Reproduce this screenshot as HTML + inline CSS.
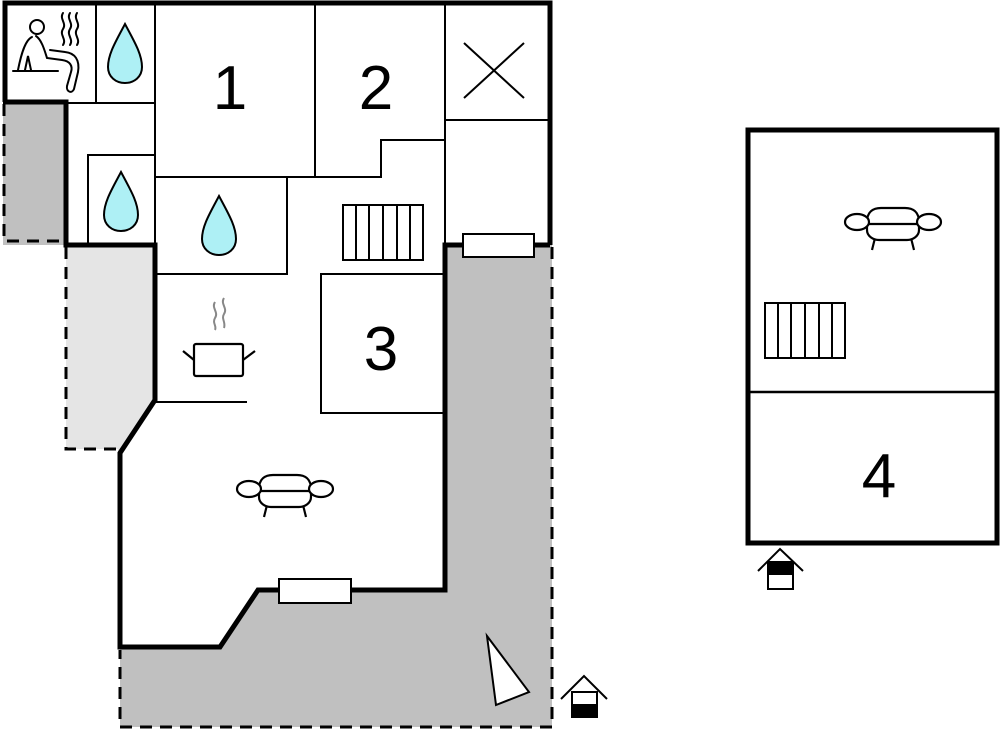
<!DOCTYPE html>
<html><head><meta charset="utf-8"><style>html,body{margin:0;padding:0;background:#fff}svg{display:block}</style></head>
<body>
<svg width="1000" height="729" viewBox="0 0 1000 729" xmlns="http://www.w3.org/2000/svg" font-family="Liberation Sans, sans-serif">
<defs>
<g id="drop"><path d="M0,-30 C9,-13 17,0 17,13 C17,23 9,29 0,29 C-9,29 -17,23 -17,13 C-17,0 -9,-13 0,-30Z" fill="#aef0f5" stroke="#000" stroke-width="2"/></g>
<g id="sofa" fill="#fff" stroke="#000" stroke-width="2.2">
<line x1="-18" y1="12" x2="-21" y2="24"/><line x1="18" y1="12" x2="21" y2="24"/>
<path d="M-26,-4 L-26,4 C-26,10 -20,14 -14,14 L14,14 C20,14 26,10 26,4 L26,-4"/>
<path d="M-26,-4 C-26,-14 -20,-18 -12,-18 L12,-18 C20,-18 26,-14 26,-4"/>
<line x1="-26" y1="-2" x2="26" y2="-2"/>
<ellipse cx="-36" cy="-4" rx="12" ry="8"/><ellipse cx="36" cy="-4" rx="12" ry="8"/>
</g>
<g id="stairs" fill="#fff" stroke="#000" stroke-width="2">
<rect x="0" y="0" width="80" height="55"/>
<line x1="13" y1="0" x2="13" y2="55"/><line x1="26" y1="0" x2="26" y2="55"/><line x1="40" y1="0" x2="40" y2="55"/><line x1="54" y1="0" x2="54" y2="55"/><line x1="67" y1="0" x2="67" y2="55"/>
</g>
</defs>
<rect x="3" y="102" width="63" height="143" fill="#c0c0c0"/>
<polygon points="66,245 155,245 155,400 118,452 118,449 66,449" fill="#e5e5e5"/>
<polygon points="445,245 552,245 552,727 120,727 120,647 220,647 257,589 445,589" fill="#c0c0c0"/>
<g fill="none" stroke="#000" stroke-width="3" stroke-dasharray="12,8">
<polyline points="4,104 4,241 66,241"/>
<polyline points="66,247 66,449 118,449"/>
<polyline points="552,247 552,727 120,727 120,650"/>
</g>
<g fill="none" stroke="#000" stroke-width="2">
<line x1="96" y1="3" x2="96" y2="102"/>
<line x1="66" y1="103" x2="155" y2="103"/>
<line x1="155" y1="3" x2="155" y2="245"/>
<line x1="315" y1="3" x2="315" y2="177"/>
<polyline points="155,177 381,177 381,140 445,140"/>
<line x1="445" y1="3" x2="445" y2="245"/>
<line x1="445" y1="120" x2="550" y2="120"/>
<line x1="464" y1="43" x2="524" y2="98"/><line x1="524" y1="43" x2="464" y2="98"/>
<polyline points="88,245 88,155 155,155"/>
<polyline points="287,177 287,274 155,274"/>
<polyline points="445,274 321,274 321,413 445,413"/>
<line x1="155" y1="402" x2="247" y2="402"/>
</g>
<g fill="none" stroke="#000" stroke-width="5" stroke-linejoin="miter">
<polyline points="5,102 5,3 550,3 550,245"/>
<polyline points="3,102 66,102 66,245 155,245 155,400 120,453 120,647 220,647 258,590 445,590 445,245 550,245"/>
<rect x="748" y="130" width="249" height="413"/>
</g>
<line x1="748" y1="392" x2="997" y2="392" stroke="#000" stroke-width="2.5"/>
<rect x="463" y="234" width="71" height="23" fill="#fff" stroke="#000" stroke-width="2"/>
<rect x="279" y="579" width="72" height="24" fill="#fff" stroke="#000" stroke-width="2"/>
<g font-size="62" text-anchor="middle" fill="#000">
<text x="230" y="109">1</text><text x="376" y="109">2</text><text x="381" y="370">3</text><text x="879" y="497">4</text>
</g>
<use href="#drop" x="125" y="54"/>
<use href="#drop" x="121" y="202"/>
<use href="#drop" x="219" y="226"/>
<use href="#stairs" x="343" y="205"/>
<use href="#stairs" x="765" y="303"/>
<use href="#sofa" x="285" y="493"/>
<use href="#sofa" x="893" y="226"/>
<g fill="none" stroke="#000" stroke-width="2" stroke-linecap="round">
<circle cx="37" cy="27" r="7"/>
<path d="M32,37 C25,40 21,55 18,70 M25,70 L28,56 L31,70"/>
<path d="M36,36 C42,40 45,52 47,58 L62,60 C70,61 73,66 71,72 L67,86 C66,92 72,94 74,89 L78,72 C80,60 75,53 65,52 L50,50"/>
<line x1="13" y1="71" x2="58" y2="71"/>
<path d="M63,13 c-4,6 4,10 0,16 c-4,6 4,10 0,16"/>
<path d="M70,13 c-4,6 4,10 0,16 c-4,6 4,10 0,16"/>
<path d="M77,13 c-4,6 4,10 0,16 c-4,6 4,10 0,16"/>
</g>
<g fill="none" stroke="#888" stroke-width="2">
<path d="M215,302 c-4,6 4,10 0,16 c-3,5 2,8 0,12"/>
<path d="M224,298 c-4,6 4,10 0,16 c-3,5 2,8 0,14"/>
</g>
<g fill="#fff" stroke="#000" stroke-width="2.2">
<rect x="194" y="344" width="49" height="32" rx="2"/>
<line x1="194" y1="360" x2="183" y2="351"/><line x1="243" y1="360" x2="255" y2="351"/>
</g>
<polygon points="487,636 529,692 496,705" fill="#fff" stroke="#000" stroke-width="2"/>
<g stroke="#000" stroke-width="2" fill="#fff">
<polyline points="561,699 584,676 607,699" fill="none"/>
<rect x="572" y="692" width="25" height="25"/>
<rect x="572" y="705" width="25" height="12" fill="#000"/>
<polyline points="758,571 780,549 803,571" fill="none"/>
<rect x="768" y="562" width="25" height="27"/>
<rect x="768" y="562" width="25" height="12" fill="#000"/>
</g>
</svg>
</body></html>
